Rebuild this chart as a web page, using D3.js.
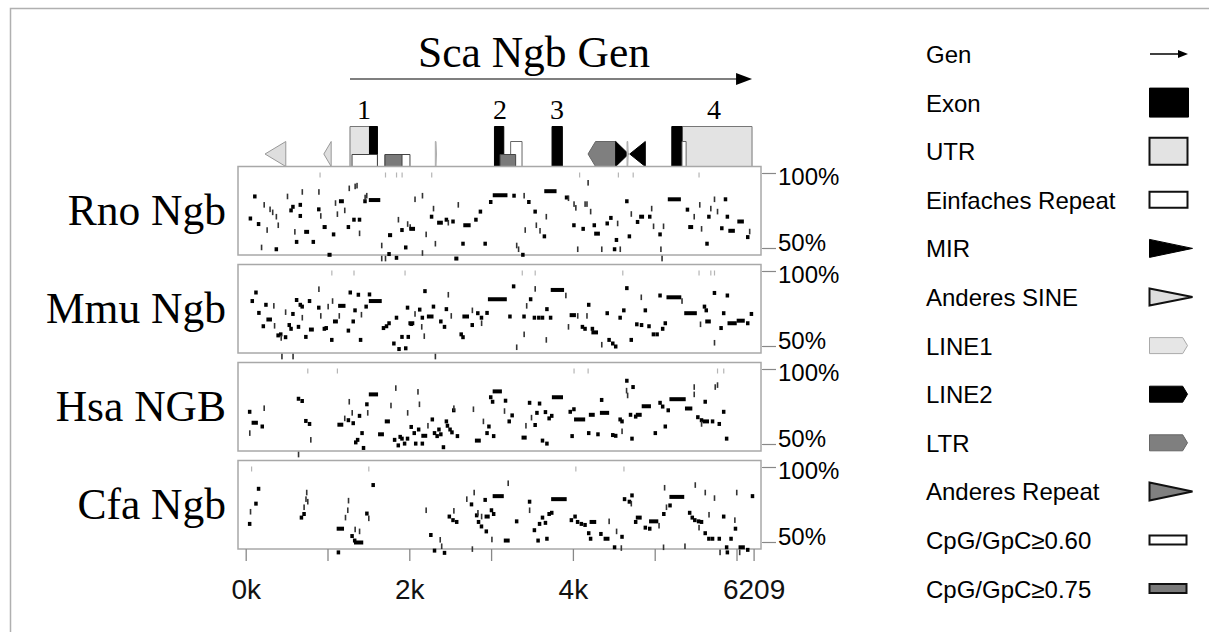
<!DOCTYPE html>
<html>
<head>
<meta charset="utf-8">
<script src="https://cdn.jsdelivr.net/npm/d3@7"></script>
<style>
body {margin: 0; background: #fff;}
svg {display: block;}
.serif {font-family: "Liberation Serif", "Times New Roman", serif;}
.sans {font-family: "Liberation Sans", Arial, sans-serif;}
</style>
</head>
<body>
<svg id="chart" width="1209" height="632"></svg>
<script>
// species rows, top to bottom
var species = ["Rno Ngb", "Mmu Ngb", "Hsa NGB", "Cfa Ngb"];
var seqLength = 6209;
var xTicks = [0, 1000, 2000, 3000, 4000, 5000, 6000, 6209];
var xTickLabels = {0: "0k", 2000: "2k", 4000: "4k", 6209: "6209"};
var yTicks = [100, 50];

// conserved segments: [start bp, length bp, identity %]  (length 0 = thin tick)
var rnoMarks = [[90,25,84.7],[36,25,70.0],[136,25,66.3],[194,0,50.7],[226,0,79.1],[262,0,62.3],[298,0,76.1],[330,0,74.1],[353,25,49.5],[375,0,71.2],[398,0,65.5],[511,0,84.7],[533,25,75.4],[556,25,77.8],[601,0,61.1],[601,25,54.4],[646,25,79.1],[646,25,71.7],[692,0,87.7],[715,60,61.1],[805,25,54.4],[872,25,76.1],[895,0,87.7],[918,0,71.7],[940,50,64.3],[1000,50,45.8],[1053,25,59.4],[1098,0,80.3],[1121,0,72.9],[1140,60,81.5],[1211,0,75.4],[1234,25,64.3],[1266,0,90.1],[1302,25,69.2],[1338,0,91.4],[1361,0,91.9],[1370,25,69.2],[1392,0,60.1],[1437,25,81.5],[1460,0,84.0],[1480,0,85.2],[1505,140,82.3],[1663,0,52.0],[1663,0,43.3],[1709,0,43.3],[1731,25,46.3],[1740,50,58.9],[1822,25,43.8],[1867,0,69.2],[1889,25,62.3],[1935,25,50.7],[1980,0,66.3],[2011,0,64.3],[2000,70,63.1],[2070,0,82.8],[2161,0,85.2],[2161,0,47.0],[2206,0,59.4],[2251,25,71.2],[2296,0,76.6],[2319,0,53.2],[2340,70,67.2],[2432,25,69.2],[2477,0,67.2],[2513,25,68.0],[2550,50,43.3],[2599,0,79.1],[2635,25,53.2],[2660,90,65.5],[2793,25,69.2],[2848,25,74.6],[2906,25,53.2],[2974,25,81.0],[3020,180,85.5],[3259,25,85.2],[3313,0,52.0],[3336,0,49.5],[3367,25,45.8],[3404,0,85.2],[3417,0,62.3],[3440,25,81.0],[3517,25,74.6],[3553,0,65.5],[3598,0,61.8],[3630,25,58.1],[3675,0,71.2],[3650,150,88.2],[3901,25,84.0],[3946,0,83.5],[3991,25,65.5],[4014,0,79.6],[4036,0,77.1],[4059,0,49.5],[4104,25,63.1],[4149,0,79.6],[4172,0,79.6],[4186,0,93.8],[4217,0,74.6],[4240,25,65.5],[4260,70,59.9],[4353,0,49.5],[4398,25,66.7],[4443,25,70.4],[4488,25,49.5],[4511,25,55.7],[4547,0,66.7],[4579,0,49.5],[4638,25,81.5],[4669,25,58.1],[4714,0,73.0],[4769,25,67.7],[4810,60,71.2],[4918,25,71.2],[4963,0,76.6],[4986,0,64.8],[5044,25,59.4],[5076,0,49.5],[5090,0,43.3],[5108,0,64.8],[5160,160,82.8],[5379,25,75.9],[5410,60,64.3],[5483,0,71.2],[5551,0,79.1],[5573,0,63.1],[5618,25,53.2],[5641,25,71.2],[5686,0,76.6],[5731,0,82.8],[5768,0,74.6],[5799,25,63.5],[5844,25,82.8],[5867,25,71.2],[5900,80,61.8],[6010,80,68.0],[6116,25,57.6],[6161,0,61.3]];
var rnoFaint = [909,1709,1844,1912,2274,4082,4556,4737,5542];

var mmuMarks = [[59,25,80.3],[104,25,86.0],[140,25,72.4],[194,25,63.5],[226,25,77.8],[253,68,68.0],[344,0,77.1],[353,0,63.8],[375,25,57.4],[407,25,58.1],[434,0,55.7],[443,0,43.3],[466,25,56.2],[488,0,72.9],[511,25,64.3],[533,25,61.8],[556,25,71.7],[579,0,43.3],[601,25,81.0],[624,25,63.1],[646,25,77.8],[669,25,76.6],[692,0,69.2],[714,25,56.4],[759,25,80.3],[773,60,61.3],[872,25,75.9],[895,0,88.2],[918,0,70.4],[940,25,61.8],[963,25,62.3],[1008,0,76.6],[1031,25,54.4],[1062,0,80.3],[1067,60,66.7],[1144,0,70.4],[1130,90,77.1],[1234,25,60.6],[1257,25,86.0],[1293,25,66.7],[1315,25,74.1],[1356,25,84.5],[1383,25,54.4],[1415,0,71.2],[1451,25,76.6],[1492,25,84.7],[1505,158,80.3],[1663,25,62.3],[1700,25,63.5],[1731,25,65.5],[1790,25,52.0],[1822,25,69.2],[1853,25,48.3],[1889,25,56.4],[1935,25,48.8],[1957,25,75.9],[1966,25,56.4],[2002,25,65.0],[1989,72,65.5],[2070,0,71.7],[2106,25,74.6],[2138,25,69.2],[2152,0,63.1],[2170,25,86.9],[2183,0,56.9],[2215,81,70.0],[2274,25,76.6],[2319,0,43.3],[2364,25,66.7],[2409,25,63.1],[2432,25,74.9],[2477,0,84.5],[2513,0,70.4],[2613,25,58.1],[2635,25,56.2],[2649,81,70.0],[2748,25,64.3],[2771,0,74.1],[2816,25,72.2],[2861,25,69.2],[2884,0,65.5],[2929,25,72.4],[2961,231,81.5],[3209,25,70.0],[3254,25,90.1],[3313,0,49.5],[3381,25,70.0],[3404,0,58.1],[3435,0,77.1],[3462,25,81.5],[3508,25,69.2],[3539,0,88.4],[3562,25,69.2],[3607,25,69.2],[3661,25,74.9],[3675,0,54.4],[3706,25,69.2],[3729,163,87.7],[3914,0,84.0],[3946,0,63.1],[3960,77,70.9],[4059,0,70.4],[4095,25,63.1],[4127,25,61.8],[4172,25,77.8],[4172,0,70.4],[4217,25,61.8],[4226,81,59.4],[4353,0,51.2],[4398,25,72.2],[4421,25,54.4],[4466,25,52.0],[4502,25,50.0],[4556,25,69.2],[4601,25,74.1],[4638,25,88.9],[4692,25,54.4],[4760,25,64.8],[4818,25,64.3],[4836,0,82.8],[4864,25,74.1],[4909,25,63.5],[4963,25,58.1],[5008,25,58.1],[5044,25,84.0],[5076,25,61.8],[5108,25,65.5],[5144,181,82.8],[5334,0,80.3],[5361,154,72.2],[5560,0,64.8],[5587,25,76.6],[5609,25,74.1],[5618,68,66.7],[5709,25,85.7],[5731,0,52.5],[5790,25,62.3],[5822,25,72.2],[5867,25,84.0],[5890,113,65.5],[6002,99,67.2],[6116,25,65.5],[6161,25,71.7]];
var mmuFaint = [1053,1324,1948,3381,3539,4610,5542,5686,5731];

var hsaMarks = [[27,25,71.8],[50,0,57.6],[72,77,64.5],[181,25,62.0],[226,0,74.2],[624,25,80.5],[669,25,79.0],[714,25,65.7],[759,25,63.7],[796,0,53.1],[646,0,43.3],[1121,72,63.2],[1211,0,67.4],[1234,25,66.2],[1266,0,78.5],[1293,25,64.2],[1302,0,71.1],[1324,25,51.4],[1347,25,53.1],[1370,25,69.1],[1401,25,57.6],[1419,25,47.7],[1460,25,76.8],[1492,0,71.1],[1505,113,83.4],[1618,72,56.8],[1700,63,65.4],[1776,0,76.0],[1799,25,53.1],[1835,0,87.6],[1844,25,49.4],[1867,25,55.1],[1889,25,53.9],[1921,25,50.6],[1957,25,53.9],[1980,0,71.1],[2002,25,61.7],[2039,25,57.6],[2057,25,50.6],[2093,25,60.0],[2106,0,85.1],[2124,0,76.8],[2138,25,50.6],[2147,72,55.8],[2228,0,62.5],[2260,25,66.7],[2287,25,57.6],[2319,25,55.6],[2341,25,60.0],[2364,25,56.8],[2396,25,48.2],[2432,25,65.4],[2445,25,62.5],[2477,25,60.0],[2500,25,58.1],[2522,25,72.8],[2545,0,74.2],[2567,25,55.6],[2784,0,73.5],[2802,72,52.6],[2906,0,65.4],[2929,25,57.6],[2952,25,62.0],[2974,25,81.5],[2997,25,78.5],[3010,25,55.6],[3019,113,85.4],[3155,25,79.2],[3164,0,72.3],[3200,25,65.4],[3236,25,69.4],[3372,63,54.6],[3426,0,62.5],[3449,25,77.8],[3494,0,67.9],[3517,25,63.0],[3539,25,71.1],[3571,25,77.3],[3607,25,52.6],[3643,25,71.6],[3661,25,50.6],[3688,25,67.4],[3720,25,69.1],[3743,136,81.5],[3946,25,71.8],[3969,25,55.6],[3991,25,73.5],[4014,136,66.7],[4172,25,57.6],[4195,72,69.8],[4285,25,56.8],[4330,25,79.7],[4330,113,71.1],[4466,25,56.3],[4502,25,55.8],[4556,25,66.7],[4579,25,65.4],[4601,0,58.8],[4638,25,92.5],[4656,0,85.9],[4669,0,82.7],[4683,25,69.8],[4701,25,53.9],[4714,25,88.3],[4746,25,68.6],[4769,72,69.8],[4841,113,75.5],[4986,25,57.6],[5044,25,77.8],[5076,25,75.3],[5108,25,62.0],[5144,25,72.8],[5180,199,80.2],[5370,90,74.0],[5483,0,88.3],[5483,0,83.4],[5506,25,68.2],[5551,25,66.2],[5573,0,63.7],[5596,25,78.5],[5587,77,65.4],[5686,25,65.4],[5740,0,88.3],[5768,0,89.6],[5768,25,63.7],[5822,25,71.8],[5858,25,53.9]];
var hsaFaint = [759,1121,4014,4186,5768,5844];

var cfaMarks = [[27,25,62.4],[59,0,70.5],[104,25,75.9],[136,25,85.8],[660,25,66.6],[692,25,69.0],[714,0,73.5],[737,0,78.9],[746,0,83.3],[759,0,77.2],[1112,25,43.4],[1112,90,59.2],[1220,0,66.6],[1248,0,71.5],[1257,0,77.9],[1279,25,54.3],[1311,25,51.3],[1338,0,58.7],[1324,113,50.0],[1392,0,57.4],[1460,25,69.3],[1505,0,66.1],[1537,25,88.3],[2206,0,71.5],[2242,25,55.0],[2287,25,44.6],[2378,0,51.8],[2396,0,47.5],[2409,25,43.1],[2468,25,67.3],[2513,25,64.9],[2558,25,63.7],[2545,0,71.1],[2703,0,78.9],[2739,25,75.4],[2771,0,45.6],[2793,0,83.3],[2802,25,68.1],[2825,25,63.7],[2839,0,69.8],[2861,25,60.7],[2884,0,67.3],[2906,25,78.4],[2920,25,57.4],[2920,63,67.3],[2983,25,71.5],[3010,25,69.0],[3010,0,52.0],[3019,136,80.9],[3155,72,51.3],[3209,0,89.5],[3291,25,64.1],[3449,25,77.2],[3471,0,71.5],[3508,25,58.2],[3553,25,51.3],[3571,25,62.4],[3607,25,66.6],[3643,25,63.1],[3661,25,52.5],[3688,25,69.0],[3720,25,69.8],[3734,190,78.9],[3960,25,64.9],[4005,25,67.3],[4036,25,63.7],[4082,25,62.4],[4127,25,61.7],[4172,25,56.2],[4195,25,52.5],[4204,81,63.7],[4321,25,55.7],[4375,72,52.5],[4443,0,64.1],[4488,25,46.8],[4534,0,57.4],[4579,25,53.8],[4592,0,46.3],[4610,25,78.9],[4669,25,77.2],[4701,25,81.4],[4714,0,75.9],[4746,25,63.7],[4769,72,66.6],[4864,25,59.9],[4918,25,59.2],[4931,113,64.1],[5053,0,61.2],[5090,25,69.0],[5108,0,46.8],[5121,0,86.5],[5144,0,73.5],[5166,25,74.7],[5180,181,80.4],[5370,0,47.5],[5406,25,69.8],[5438,25,66.6],[5469,25,64.9],[5496,0,88.3],[5515,25,64.1],[5542,0,59.9],[5551,25,63.7],[5596,25,56.2],[5618,0,83.3],[5641,25,52.5],[5664,0,68.5],[5686,25,52.5],[5731,0,79.6],[5768,25,52.5],[5799,0,43.4],[5822,25,67.3],[5858,25,46.8],[5867,25,43.4],[5912,25,52.5],[5966,25,59.2],[5980,0,64.9],[6003,0,83.3],[6039,0,43.4],[6025,77,46.8],[6116,25,45.1],[6174,25,80.9]];
var cfaFaint = [72,1505,4036,4624];
var faintLevel = 99;

// gene annotation of the reference sequence (bp)
var geneName = "Sca Ngb Gen";
var geneSpan = [1275, 6190];
var exonNames = ["1", "2", "3", "4"];
var exonNamePos = [1446, 3109, 3806, 5725];
var featureTypes = ["sine", "sine", "utr", "exon", "cpg60", "cpg60", "cpg75", "line1", "exon", "simple", "cpg75", "exon", "ltr", "mir", "line1", "mir", "utr", "exon", "simple"];
var featureStart = [236, 955, 1275, 1513, 1300, 1703, 1703, 2318, 3041, 3239, 3109, 3745, 4185, 4523, 4662, 4695, 5334, 5209, 5334];
var featureEnd   = [490, 1045, 1610, 1610, 1610, 2008, 1911, 2332, 3155, 3378, 3300, 3871, 4523, 4680, 4676, 4885, 6190, 5334, 5384];
var featureDir   = [-1, -1, 0, 0, 0, 0, 0, 1, 0, 0, 0, 0, -1, 1, 1, -1, 0, 0, 0];

var legendNames = ["Gen", "Exon", "UTR", "Einfaches Repeat", "MIR", "Anderes SINE", "LINE1", "LINE2", "LTR", "Anderes Repeat", "CpG/GpC\u22650.60", "CpG/GpC\u22650.75"];
var legendKeys = ["gene", "exon", "utr", "simple", "mir", "sine", "line1", "line2", "ltr", "other", "cpg60", "cpg75"];

var allMarks = [rnoMarks, mmuMarks, hsaMarks, cfaMarks];
var allFaint = [rnoFaint, mmuFaint, hsaFaint, cfaFaint];

var styles = {
    exon:   {fill: "#000", stroke: "#000", h: 40},
    utr:    {fill: "#e3e3e3", stroke: "#777", h: 40},
    simple: {fill: "#fff", stroke: "#666", h: 25},
    mir:    {fill: "#000", stroke: "#000", h: 25},
    sine:   {fill: "#dedede", stroke: "#999", h: 25},
    line1:  {fill: "#e6e6e6", stroke: "#aaa", h: 25},
    line2:  {fill: "#000", stroke: "#000", h: 25},
    ltr:    {fill: "#7f7f7f", stroke: "#666", h: 25},
    other:  {fill: "#808080", stroke: "#000", h: 25},
    cpg60:  {fill: "#fff", stroke: "#444", h: 12},
    cpg75:  {fill: "#7a7a7a", stroke: "#444", h: 12}
};

var svg = d3.select("#chart");

var panel = {left: 238, right: 761, top: 166.5, height: 88.5, step: 98};

var x = d3.scaleLinear()
    .domain([0, seqLength])
    .range([245.7, 753.6]);

// outer frame
svg.append("rect")
    .attr("x", 10.5).attr("y", 8.5)
    .attr("width", 1220).attr("height", 640)
    .style("fill", "none").style("stroke", "#b0b0b0").style("stroke-width", 1.5);

// shape of a feature between x0 and x1, bottom at yb
function shapePath(kind, x0, x1, yb, h, dir) {
    var yt = yb - h, ym = yb - h / 2;
    if (kind == "mir" || kind == "sine" || kind == "other") {
        if (dir < 0) return "M" + x1 + "," + yt + "L" + x0 + "," + ym + "L" + x1 + "," + yb + "Z";
        return "M" + x0 + "," + yt + "L" + x1 + "," + ym + "L" + x0 + "," + yb + "Z";
    }
    if (kind == "line1" || kind == "line2" || kind == "ltr") {
        var p = Math.min(h * 0.3, (x1 - x0) * 0.4);
        if (dir < 0) return "M" + x1 + "," + yt + "L" + (x0 + p) + "," + yt + "L" + x0 + "," + ym +
            "L" + (x0 + p) + "," + yb + "L" + x1 + "," + yb + "Z";
        return "M" + x0 + "," + yt + "L" + (x1 - p) + "," + yt + "L" + x1 + "," + ym +
            "L" + (x1 - p) + "," + yb + "L" + x0 + "," + yb + "Z";
    }
    return "M" + x0 + "," + yt + "L" + x1 + "," + yt + "L" + x1 + "," + yb + "L" + x0 + "," + yb + "Z";
}

// title and gene arrow
svg.append("text")
    .attr("class", "serif")
    .attr("x", 534)
    .attr("y", 67)
    .attr("text-anchor", "middle")
    .style("font-size", "43.5px")
    .text(geneName);

svg.append("line")
    .attr("x1", x(geneSpan[0])).attr("x2", x(geneSpan[1]) - 14)
    .attr("y1", 79).attr("y2", 79)
    .style("stroke", "#555").style("stroke-width", 1.3);
svg.append("path")
    .attr("d", "M" + (x(geneSpan[1]) - 16) + ",73L" + x(geneSpan[1]) + ",79L" + (x(geneSpan[1]) - 16) + ",85Z")
    .style("fill", "#000");

svg.selectAll("text.exonnum")
    .data(exonNames)
    .enter()
    .append("text")
    .attr("class", "serif exonnum")
    .attr("x", function(d, i) { return x(exonNamePos[i]); })
    .attr("y", 119)
    .attr("text-anchor", "middle")
    .style("font-size", "28px")
    .text(function(d) { return d; });

// annotation track sitting on the first panel
var track = svg.append("g");
featureTypes.forEach(function(t, i) {
    var st = styles[t];
    track.append("path")
        .attr("d", shapePath(t, x(featureStart[i]), x(featureEnd[i]), panel.top, st.h, featureDir[i]))
        .style("fill", st.fill)
        .style("stroke", st.stroke)
        .style("stroke-width", 1);
});

// the four conservation panels
species.forEach(function(name, i) {
    var top = panel.top + i * panel.step;
    var y = d3.scaleLinear().domain([50, 100]).range([top + 82, top + 7]);
    var g = svg.append("g");

    g.append("rect")
        .attr("x", panel.left).attr("y", top)
        .attr("width", panel.right - panel.left).attr("height", panel.height)
        .style("fill", "#fff").style("stroke", "#a8a8a8").style("stroke-width", 1.5);

    g.selectAll("rect.faint")
        .data(allFaint[i])
        .enter()
        .append("rect")
        .attr("class", "faint")
        .attr("x", function(d) { return x(d) - 0.6; })
        .attr("y", y(faintLevel) - 2.5)
        .attr("width", 1.2).attr("height", 5)
        .style("fill", "#b5b5b5");

    g.selectAll("rect.mark")
        .data(allMarks[i])
        .enter()
        .append("rect")
        .attr("class", "mark")
        .attr("x", function(d) { return d[1] > 0 ? x(d[0]) : x(d[0]) - 0.8; })
        .attr("y", function(d) { return d[1] > 0 ? y(d[2]) - 2 : y(d[2]) - 2.8; })
        .attr("width", function(d) { return d[1] > 0 ? Math.max(3.5, x(d[0] + d[1]) - x(d[0])) : 1.6; })
        .attr("height", function(d) { return d[1] > 0 ? 4 : 5.6; })
        .style("fill", function(d) { return d[1] > 0 ? "#000" : "#333"; });

    g.append("text")
        .attr("class", "serif")
        .attr("x", 226)
        .attr("y", top + 58)
        .attr("text-anchor", "end")
        .style("font-size", "43.5px")
        .text(name);

    yTicks.forEach(function(v) {
        g.append("line")
            .attr("x1", panel.right + 1).attr("x2", panel.right + 15)
            .attr("y1", y(v)).attr("y2", y(v))
            .style("stroke", "#888").style("stroke-width", 1.2);
        g.append("text")
            .attr("class", "sans")
            .attr("x", panel.right + 17)
            .attr("y", y(v) + (v == 100 ? 11 : 2))
            .style("font-size", "24px")
            .text(v + "%");
    });
});

// position axis below the last panel
var bottom = panel.top + 3 * panel.step + panel.height;
var xAxis = d3.axisBottom(x)
    .tickValues(xTicks)
    .tickSize(12)
    .tickPadding(18)
    .tickFormat(function(d) { return xTickLabels[d] || ""; });

var axisG = svg.append("g")
    .attr("transform", "translate(0," + bottom + ")")
    .call(xAxis);
axisG.select(".domain").remove();
axisG.selectAll("line").style("stroke", "#888").style("stroke-width", 1.3);
axisG.selectAll("text")
    .style("font-family", "'Liberation Sans', Arial, sans-serif")
    .style("font-size", "28px")
    .style("fill", "#111");

// legend
var legendG = svg.append("g");
legendNames.forEach(function(name, i) {
    var base = 63 + i * 48.6;
    var key = legendKeys[i];
    legendG.append("text")
        .attr("class", "sans")
        .attr("x", 926)
        .attr("y", base)
        .style("font-size", "24px")
        .text(name);

    var cy = base - 9;
    if (key == "gene") {
        legendG.append("line")
            .attr("x1", 1150).attr("x2", 1180).attr("y1", cy).attr("y2", cy)
            .style("stroke", "#000").style("stroke-width", 1.5);
        legendG.append("path")
            .attr("d", "M1178," + (cy - 4) + "L1188," + cy + "L1178," + (cy + 4) + "Z")
            .style("fill", "#000");
        return;
    }
    var sizes = {exon: [39, 29], utr: [38, 27], simple: [38, 16], mir: [43, 18], sine: [43, 17],
        line1: [38, 16], line2: [38, 16], ltr: [38, 16], other: [43, 18], cpg60: [37, 9], cpg75: [37, 9]};
    var w = sizes[key][0], h = sizes[key][1];
    var st = styles[key];
    var heavy = (key == "utr" || key == "simple" || key == "sine" || key == "other" || key == "cpg60" || key == "cpg75");
    legendG.append("path")
        .attr("d", shapePath(key, 1149.5, 1149.5 + w, cy + h / 2, h, 1))
        .style("fill", st.fill)
        .style("stroke", heavy ? "#111" : st.stroke)
        .style("stroke-width", heavy ? 2 : 1);
});
</script>
</body>
</html>
